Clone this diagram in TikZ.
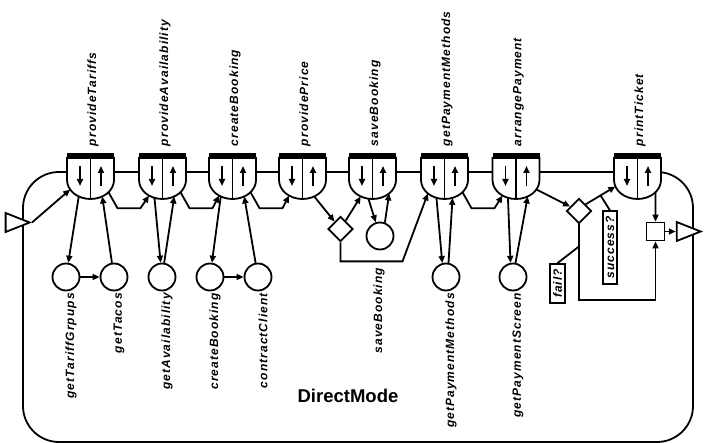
\documentclass[tikz,border=0pt]{standalone}
\usepackage{fontspec}
\setmainfont{Liberation Sans}
\usetikzlibrary{arrows.meta,shapes.geometric,calc}

\begin{document}
\begin{tikzpicture}[x=1pt, y=-1pt, line width=1.8pt, label distance=5pt,
  arr/.style={-{Triangle[length=7pt,width=6pt]}},
  lbl/.style={font=\fontsize{12}{14}\selectfont\bfseries\itshape\addfontfeature{LetterSpace=9}, inner sep=1pt},
  op/.style={circle, draw, fill=white, minimum size=27pt, inner sep=0pt},
  choice/.style={diamond, draw, fill=white, minimum size=25pt, inner sep=0pt},
  port/.style={isosceles triangle, isosceles triangle stretches, draw, fill=white, minimum width=19pt, minimum height=24pt, inner sep=0pt},
  guard/.style={draw, fill=white, rotate=90, lbl, inner xsep=5pt, inner ysep=3pt},
  under/.style={label={[lbl, rotate=90, anchor=east]south:#1}},
  shield/.pic={
    \fill (-23.5,0) rectangle (23.5,5);
    \draw[fill=white] (-23.5,5) -- (-23.5,27) arc[start angle=180, end angle=0, x radius=23.5, y radius=19] -- (23.5,5) -- cycle;
    \draw (0,5) -- (0,46);
    \draw[arr] (-10.5,13) -- (-10.5,33);
    \draw[arr] (10.5,33) -- (10.5,13);
    \foreach \a in {30,40,45,60,70,100,110,120,125,135,150,160}
      \coordinate (-\a) at ($(0,27)+(\a:23.5 and 19)$);
    \node[lbl, rotate=90, anchor=west] at (2.5,-5) {#1};
  }]
\useasboundingbox (0,0) rectangle (704,443);
\draw[rounded corners=36pt] (23,172) rectangle (693,442);

\pic (s1) at (90.5,153) {shield=provideTariffs};
\pic (s2) at (162.5,153) {shield=provideAvailability};
\pic (s3) at (232.5,153) {shield=createBooking};
\pic (s4) at (302.5,153) {shield=providePrice};
\pic (s5) at (372.5,153) {shield=saveBooking};
\pic (s6) at (444.5,153) {shield=getPaymentMethods};
\pic (s7) at (516,153) {shield=arrangePayment};
\pic (s8) at (637.5,153) {shield=printTicket};

\node[op, under=getTariffGrpups] (c1) at (66,277) {};
\node[op, under=getTacos] (c2) at (114,277) {};
\node[op, under=getAvailability] (c3) at (162,277) {};
\node[op, under=createBooking] (c4) at (210,277) {};
\node[op, under=contractClient] (c5) at (258,277) {};
\node[op] (sb) at (380,236) {};
\node[lbl, rotate=90, anchor=east] (sbl) at (379,266) {saveBooking};
\node[op, under=getPaymentMethods] (c6) at (446,277) {};
\node[op, under=getPaymentScreen] (c7) at (513,277) {};

\node[choice] (d1) at (340.5,229) {};
\node[choice] (d2) at (579,211) {};
\node[draw, fill=white, minimum size=18pt, inner sep=0pt] (sq) at (655.5,231.5) {};
\node[port, anchor=apex] (tin) at (32,222.5) {};
\node[port, anchor=apex] (tout) at (703,231.5) {};
\node[guard] (succ) at (610,247.5) {success?};
\node[guard] (fail) at (557.5,283.5) {fail?};
\node[font=\fontsize{18.5}{20}\selectfont\bfseries] (mode) at (348,396) {DirectMode};

\draw[arr] (tin.apex) -- (s1-150);
\draw[arr] (s1-120) -- (c1);
\draw[arr] (c1) -- (c2);
\draw[arr] (c2) -- (s1-60);
\draw[arr] (s1-40) -- ++(9,16) -- ++(23,0) -- (s2-125);
\draw[arr] (s2-110) -- (c3);
\draw[arr] (c3) -- (s2-60);
\draw[arr] (s2-40) -- ++(9,16) -- ++(23,0) -- (s3-125);
\draw[arr] (s3-120) -- (c4);
\draw[arr] (c4) -- (c5);
\draw[arr] (c5) -- (s3-60);
\draw[arr] (s3-40) -- ++(9,16) -- ++(23,0) -- (s4-125);
\draw[arr] (s4-60) -- (d1);
\draw[arr] (d1) -- (s5-120);
\draw[arr] (s5-100) -- (sb);
\draw[arr] (sb.70) -- (s5-45);
\draw[arr] (d1.south) -- ++(0,19) -- ++(62,0) -- (s6-135);
\draw[arr] (s6-110) -- (c6.105);
\draw[arr] (c6.80) -- (s6-70);
\draw[arr] (s6-40) -- ++(9,16) -- ++(23,0) -- (s7-125);
\draw[arr] (s7-110) -- (c7.100);
\draw[arr] (c7.80) -- (s7-60);
\draw[arr] (s7-30) -- (d2);
\draw[arr] (d2.north east) -- coordinate[pos=0.5] (sm) (s8-160);
\draw (sm) -- (succ.east);
\draw[arr] (d2.south) -- coordinate[pos=0.29] (fm) ++(0,76) -| (sq.south);
\draw (fm) -- (fail.east);
\draw[arr] (s8-40) -- (sq);
\draw[arr] (sq) -- (tout);
\end{tikzpicture}
\end{document}
